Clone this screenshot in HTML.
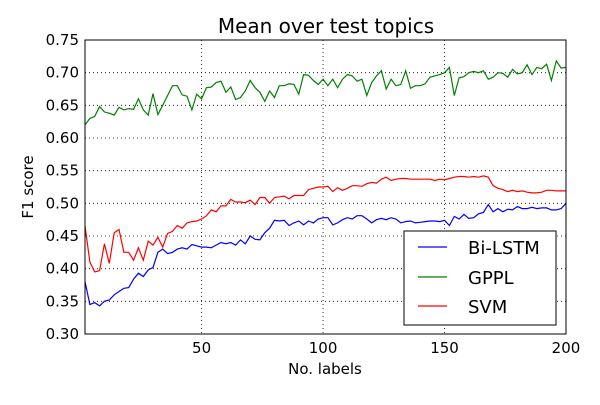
<!DOCTYPE html>
<html><head><meta charset="utf-8"><style>
body{margin:0;background:#fff;}
svg text{font-family:"DejaVu Sans","Liberation Sans",sans-serif;}
</style></head><body>
<svg id="chart" width="600" height="400" xmlns="http://www.w3.org/2000/svg">
<rect width="600" height="400" fill="#fff"/>
<text x="326" y="33" font-size="20" text-anchor="middle">Mean over test topics</text>
<g id="grid"></g><g id="series"></g><g id="ticks"></g>
<rect x="85" y="40" width="481" height="294" fill="none" stroke="#000" stroke-width="1"/>
<text x="325" y="374" font-size="15" text-anchor="middle">No. labels</text>
<text transform="translate(33,187) rotate(-90)" font-size="15" text-anchor="middle">F1 score</text>
<g>
<rect x="404" y="231" width="152" height="94" fill="#fff" stroke="#000"/>
<line x1="418" y1="247" x2="447" y2="247" stroke="#0000ff" stroke-width="1.2"/>
<text x="468" y="254" font-size="18">Bi-LSTM</text>
<line x1="418" y1="277" x2="447" y2="277" stroke="#008000" stroke-width="1.2"/>
<text x="468" y="284" font-size="18">GPPL</text>
<line x1="418" y1="306" x2="447" y2="306" stroke="#ff0000" stroke-width="1.2"/>
<text x="468" y="313" font-size="18">SVM</text>
</g>
</svg>
<script>
const xTicks=[50,100,150,200];
const yTicks=[0.30,0.35,0.40,0.45,0.50,0.55,0.60,0.65,0.70,0.75];
const gppl=[0.62,0.630,0.633,0.648,0.640,0.638,0.635,0.647,0.643,0.645,0.644,0.660,0.643,0.635,0.668,0.636,0.650,0.665,0.680,0.680,0.666,0.664,0.643,0.667,0.660,0.677,0.678,0.685,0.687,0.670,0.678,0.659,0.662,0.672,0.688,0.677,0.670,0.656,0.672,0.662,0.680,0.680,0.683,0.682,0.667,0.697,0.696,0.688,0.682,0.690,0.680,0.690,0.677,0.690,0.697,0.695,0.687,0.690,0.665,0.685,0.695,0.703,0.675,0.690,0.680,0.682,0.703,0.676,0.680,0.680,0.683,0.693,0.695,0.697,0.700,0.708,0.665,0.692,0.694,0.700,0.702,0.700,0.703,0.690,0.693,0.700,0.699,0.693,0.705,0.698,0.700,0.712,0.697,0.708,0.706,0.713,0.688,0.718,0.707,0.708];
const svm=[0.465,0.41,0.395,0.397,0.438,0.408,0.455,0.460,0.425,0.425,0.413,0.432,0.413,0.442,0.436,0.448,0.433,0.454,0.457,0.466,0.462,0.470,0.472,0.473,0.476,0.481,0.490,0.487,0.496,0.496,0.506,0.502,0.502,0.501,0.505,0.498,0.509,0.509,0.500,0.509,0.510,0.511,0.507,0.512,0.512,0.512,0.521,0.523,0.525,0.525,0.526,0.518,0.524,0.520,0.523,0.527,0.527,0.526,0.530,0.532,0.531,0.537,0.540,0.535,0.537,0.538,0.538,0.537,0.537,0.537,0.537,0.537,0.535,0.537,0.536,0.538,0.540,0.541,0.541,0.540,0.541,0.540,0.542,0.540,0.527,0.523,0.521,0.518,0.520,0.518,0.519,0.517,0.516,0.516,0.517,0.520,0.520,0.519,0.519,0.519];
const bilstm=[0.38,0.345,0.348,0.343,0.350,0.352,0.360,0.365,0.370,0.371,0.384,0.393,0.388,0.398,0.402,0.425,0.430,0.423,0.425,0.430,0.432,0.430,0.437,0.435,0.433,0.433,0.432,0.436,0.440,0.438,0.440,0.436,0.444,0.438,0.450,0.445,0.444,0.455,0.462,0.474,0.473,0.474,0.466,0.470,0.473,0.467,0.473,0.470,0.476,0.478,0.478,0.467,0.470,0.475,0.478,0.476,0.481,0.481,0.476,0.470,0.475,0.477,0.475,0.478,0.476,0.470,0.472,0.473,0.470,0.471,0.472,0.473,0.473,0.472,0.474,0.466,0.480,0.476,0.483,0.477,0.478,0.484,0.486,0.498,0.487,0.492,0.487,0.491,0.490,0.495,0.492,0.492,0.494,0.492,0.493,0.493,0.490,0.490,0.492,0.500];
const NS="http://www.w3.org/2000/svg";
const X0=85,X1=566,Y0=334,Y1=40,xmin=2,xmax=200,ymin=0.30,ymax=0.75;
function xs(v){return X0+(v-xmin)/(xmax-xmin)*(X1-X0);}
function ys(v){return Y0-(v-ymin)/(ymax-ymin)*(Y0-Y1);}
function mk(tag,attrs,parent){const e=document.createElementNS(NS,tag);for(const k in attrs)e.setAttribute(k,attrs[k]);document.getElementById(parent).appendChild(e);return e;}
xTicks.forEach(t=>{
 const g=mk('line',{x1:xs(t),x2:xs(t),y1:Y1,y2:Y0,stroke:'#000','stroke-dasharray':'1,3','stroke-width':0.8},'grid');
 
 
 const l=mk('text',{x:xs(t),y:353,'font-size':15,'text-anchor':'middle'},'ticks');
 l.textContent=t;
 
 
});
yTicks.forEach(t=>{
 const g=mk('line',{x1:X0,x2:X1,y1:ys(t),y2:ys(t),stroke:'#000','stroke-dasharray':'1,3','stroke-width':0.8},'grid');
 
 
 const l=mk('text',{x:79,y:ys(t)+5,'font-size':15,'text-anchor':'end'},'ticks');
 l.textContent=t.toFixed(2);
 
 
});
function line(data,color,name){
 const pts=data.map((v,i)=>xs(2+2*i).toFixed(1)+','+ys(v).toFixed(1)).join(' ');
 const p=mk('polyline',{points:pts,fill:'none',stroke:color,'stroke-width':1.2},'series');
 
 
}
line(bilstm,'#0000ff','bilstm-line');
line(gppl,'#008000','gppl-line');
line(svm,'#ff0000','svm-line');
</script>
</body></html>
